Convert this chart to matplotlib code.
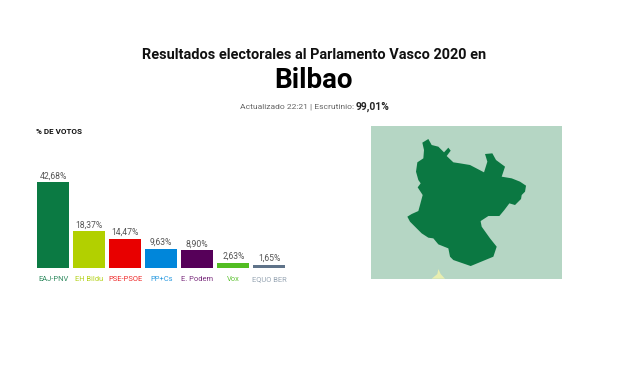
import matplotlib
matplotlib.use("Agg")
import matplotlib.pyplot as plt
from matplotlib.patches import Polygon

W, H = 624, 385
parties = ["EAJ-PNV", "EH Bildu", "PSE-PSOE", "PP+Cs", "E. Podem", "Vox", "EQUO BER"]
votes = [42.68, 18.37, 14.47, 9.63, 8.90, 2.63, 1.65]
vote_labels = ["42,68%", "18,37%", "14,47%", "9,63%", "8,90%", "2,63%", "1,65%"]
colors = ["#0b7a43", "#b2d000", "#e80000", "#0086da", "#560059", "#52bd22", "#5f7389"]
label_colors = ["#2f8a5f", "#b4d21a", "#ef2a2a", "#2a9ae0", "#7a2c7d", "#62c438", "#98a6b4"]

map_bg = "#b5d6c4"
map_green = "#0b7842"
map_yellow = "#e8eeb0"
bilbao_x = [187,205,215,235,252,265,272,260,280,300,330,372,382,375,397,408,435,425,455,480,498,495,485,483,465,448,433,418,385,362,362,365,390,410,400,332,280,270,265,235,220,205,185,165,150,142,155,175,180,188,173,182,175,168,172,190,192]
bilbao_y = [68,57,75,80,97,83,92,108,127,130,135,157,125,102,100,120,140,170,175,185,197,215,225,237,255,250,270,288,288,303,305,320,355,380,410,438,420,410,385,373,355,353,340,320,305,290,282,273,255,225,202,190,180,155,127,115,90]
neighbor_x = [215,232,235,242,255]
neighbor_y = [476,462,447,462,476]

plt.rcParams["font.family"] = ["Roboto", "DejaVu Sans"]
fig = plt.figure(figsize=(W/100, H/100), dpi=100, facecolor="white")

def px_axes(l, t, r, b):
    return fig.add_axes([l/W, 1-b/H, (r-l)/W, (b-t)/H])

ax = px_axes(35.3, 167.5, 287.3, 268.3)
ax.set_xlim(-0.5, 6.5)
ax.set_ylim(0, 50)
ax.bar(range(len(votes)), votes, width=32/36, color=colors)
for i, (v, t) in enumerate(zip(votes, vote_labels)):
    ax.annotate(t, (i, v), xytext=(0, 1.4), textcoords="offset points", ha="center", va="bottom",
                fontsize=6.2, color="#555555")
ax.set_xticks(range(len(parties)), parties, fontsize=5.4)
for lab, c in zip(ax.get_xticklabels(), label_colors):
    lab.set_color(c)
ax.tick_params(axis="x", length=0, pad=5.7)
ax.set_yticks([])
for s in ax.spines.values():
    s.set_visible(False)
ax.patch.set_alpha(0)

m = px_axes(371, 126, 561.7, 278.7)
m.set_xlim(33, 605)
m.set_ylim(476, 18)
m.set_facecolor(map_bg)
m.add_patch(Polygon(list(zip(bilbao_x, bilbao_y)), closed=True, fc=map_green, ec="none"))
m.add_patch(Polygon(list(zip(neighbor_x, neighbor_y)), closed=True, fc=map_yellow, ec="none"))
m.set_xticks([]); m.set_yticks([])
for s in m.spines.values():
    s.set_visible(False)

fig.text(314/W, 1-55/H, "Resultados electorales al Parlamento Vasco 2020 en", ha="center", va="center",
         fontsize=10.45, fontweight="bold", color="#111111")
fig.text(314/W, 1-80/H, "Bilbao", ha="center", va="center", fontsize=20, fontweight="bold", color="#000000")
fig.text(240.5/W, 1-107/H, "Actualizado 22:21 | Escrutinio:", ha="left", va="center", fontsize=6.1, color="#666666")
fig.text(356/W, 1-107/H, "99,01%", ha="left", va="center", fontsize=7.4, fontweight="bold", color="#222222")
fig.text(36/W, 1-131/H, "% DE VOTOS", ha="left", va="center", fontsize=5.8, fontweight="bold", color="#111111")

fig.savefig("out.png", dpi=100, facecolor="white")
